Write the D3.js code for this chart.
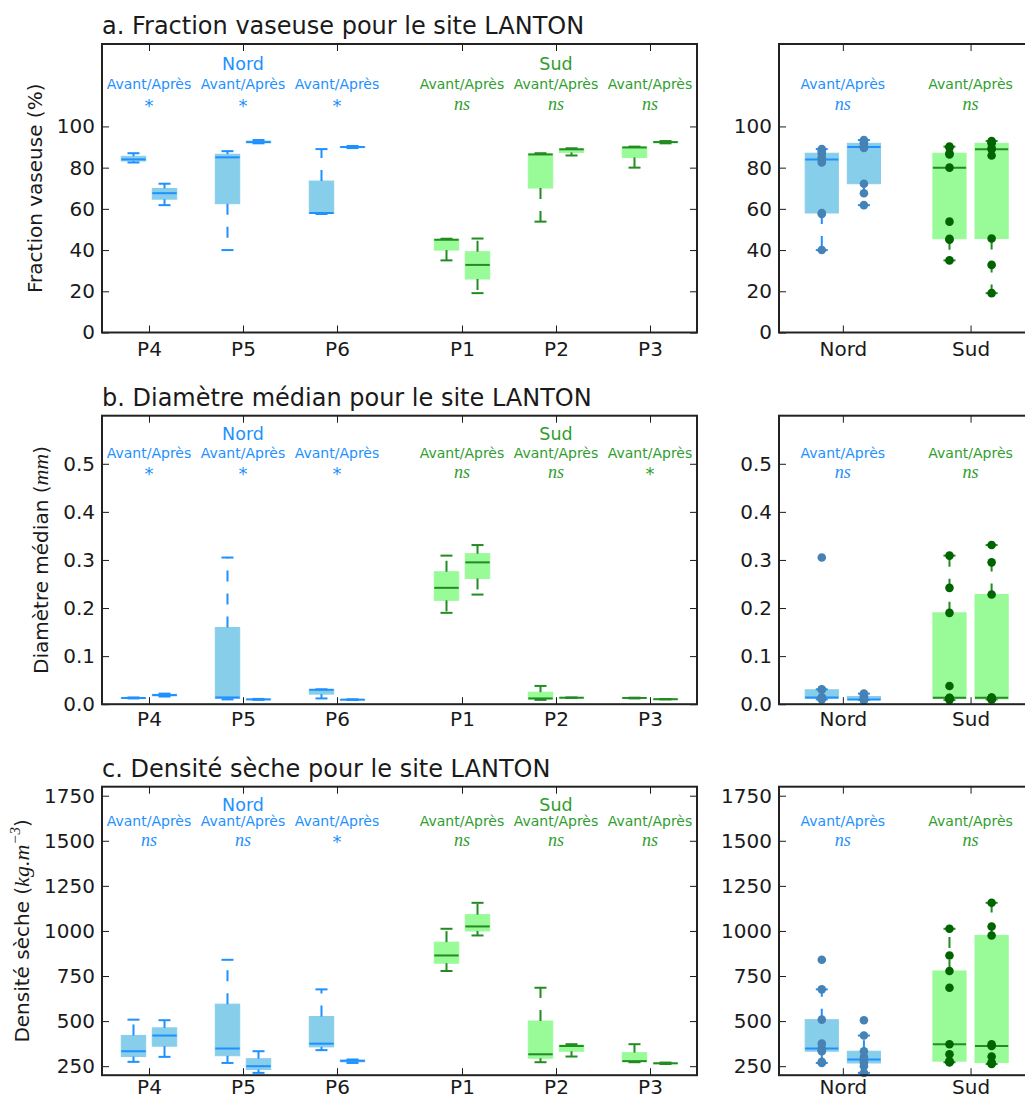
<!DOCTYPE html>
<html>
<head>
<meta charset="utf-8">
<script src="https://cdn.jsdelivr.net/npm/d3@7"></script>
<style>
  body { margin: 0; background: #fff; }
  svg { display: block; font-family: "DejaVu Sans", sans-serif; }
</style>
</head>
<body>
<svg id="chart" width="1025" height="1100"></svg>
<script>
// ---- Sampling sites (three samples per site, before / after) ----
const sites = ["P4", "P5", "P6", "P1", "P2", "P3"];
const siteSector = ["Nord", "Nord", "Nord", "Sud", "Sud", "Sud"];
const sectors = ["Nord", "Sud"];
const pairLabel = "Avant/Après";

// a. Fraction vaseuse (%)
const vaseAvant = [[82.5, 84, 87], [40, 85, 88], [57.5, 58, 89], [35, 45, 45.5], [53.8, 86.4, 87], [80, 89.8, 90.2]];
const vaseApres = [[61.8, 67.6, 72.2], [91.8, 92.4, 93.4], [89.5, 90, 90.5], [19.1, 32.8, 45.6], [85.9, 88.9, 89.4], [91.8, 92.4, 92.9]];
const vaseSig = ["*", "*", "*", "ns", "ns", "ns"];
const vaseSectorSig = ["ns", "ns"];
const vaseDomain = [0, 140];
const vaseTicks = [0, 20, 40, 60, 80, 100];

// b. Diamètre médian (mm)
const diamAvant = [[0.012, 0.013, 0.014], [0.010, 0.014, 0.305], [0.012, 0.030, 0.031], [0.190, 0.242, 0.309], [0.009, 0.012, 0.038], [0.012, 0.013, 0.0135]];
const diamApres = [[0.016, 0.019, 0.022], [0.009, 0.010, 0.011], [0.009, 0.0095, 0.010], [0.228, 0.295, 0.331], [0.013, 0.0135, 0.014], [0.0100, 0.0104, 0.0108]];
const diamSig = ["*", "*", "*", "ns", "ns", "*"];
const diamSectorSig = ["ns", "ns"];
const diamDomain = [0, 0.6];
const diamTicks = [0, 0.1, 0.2, 0.3, 0.4, 0.5];

// c. Densité sèche (kg.m-3)
const densAvant = [[274, 333, 508], [268, 348, 840], [339, 375, 676], [778, 864, 1012], [272, 316, 685], [272, 278, 372]];
const densApres = [[301.7, 420, 505], [213, 250, 333], [268, 280, 287], [975, 1025, 1156], [303.5, 362, 372], [262, 266, 270]];
const densSig = ["ns", "ns", "*", "ns", "ns", "ns"];
const densSectorSig = ["ns", "ns"];
const densDomain = [200, 1800];
const densTicks = [250, 500, 750, 1000, 1250, 1500, 1750];

// ---- Styles ----
const palette = {
  Nord: { fill: "#87CEEB", line: "#1E90FF", dot: "#4682B4", text: "#1E90FF" },
  Sud:  { fill: "#98FB98", line: "#228B22", dot: "#006400", text: "#2e9e2e" }
};
const INK = "#1a1a1a";
const MATH_FONT = "'Liberation Serif', 'DejaVu Serif', serif";

const panels = [
  { title: "a. Fraction vaseuse pour le site LANTON", top: 44,
    avant: vaseAvant, apres: vaseApres, sig: vaseSig, sectorSig: vaseSectorSig,
    domain: vaseDomain, ticks: vaseTicks, fmt: d3.format("d"),
    label: [{ t: "Fraction vaseuse (%)" }],
    off: { sector: 26, pair: 45, sig: 66 }, xPad: 9 },
  { title: "b. Diamètre médian pour le site LANTON", top: 415.7,
    avant: diamAvant, apres: diamApres, sig: diamSig, sectorSig: diamSectorSig,
    domain: diamDomain, ticks: diamTicks, fmt: d3.format(".1f"),
    label: [{ t: "Diamètre médian (" }, { t: "mm", math: true }, { t: ")" }],
    off: { sector: 24.5, pair: 42.5, sig: 62.5 }, xPad: 8 },
  { title: "c. Densité sèche pour le site LANTON", top: 786.7,
    avant: densAvant, apres: densApres, sig: densSig, sectorSig: densSectorSig,
    domain: densDomain, ticks: densTicks, fmt: d3.format("d"),
    label: [{ t: "Densité sèche (" }, { t: "kg.m", math: true }, { t: "−3", math: true, sup: true }, { t: ")" }],
    off: { sector: 24, pair: 39.5, sig: 59.5 }, xPad: 5 }
];

const PANEL_H = 288.5;
const LEFT = [102, 697];
const RIGHT = [779, 1034.4];
const SUD_GAP = 0.33;
const BOX_SHIFT = 0.165;
const BOX_W = 0.26;
const CAP_W = 12;
const TICK = 7;

const svg = d3.select("#chart");

// Tukey box statistics (linear quantiles, 1.5 IQR whiskers)
function boxStats(values) {
  const v = values.slice().sort(d3.ascending);
  const q1 = d3.quantile(v, 0.25), med = d3.quantile(v, 0.5), q3 = d3.quantile(v, 0.75);
  const iqr = q3 - q1;
  const lo = d3.min(v.filter(d => d >= q1 - 1.5 * iqr));
  const hi = d3.max(v.filter(d => d <= q3 + 1.5 * iqr));
  return { q1, med, q3, lo, hi, values: v };
}

function drawBox(g, x, y, cx, values, col, showDots) {
  const s = boxStats(values);
  const half = (x(BOX_W) - x(0)) / 2;
  const px = x(cx);
  const b = g.append("g");
  b.append("rect")
    .attr("x", px - half).attr("width", half * 2)
    .attr("y", y(s.q3)).attr("height", Math.max(0.5, y(s.q1) - y(s.q3)))
    .attr("fill", col.fill).attr("stroke", col.fill).attr("stroke-width", 1);
  // whiskers (dashed, starting at the box)
  [[s.q3, s.hi], [s.q1, s.lo]].forEach(([a, e]) => {
    if (a === e) return;
    b.append("line").attr("x1", px).attr("x2", px).attr("y1", y(a)).attr("y2", y(e))
      .attr("stroke", col.line).attr("stroke-width", 2).attr("stroke-dasharray", "11,12");
  });
  // caps
  [s.hi, s.lo].forEach(e => {
    b.append("line").attr("x1", px - CAP_W / 2).attr("x2", px + CAP_W / 2)
      .attr("y1", y(e)).attr("y2", y(e))
      .attr("stroke", col.line).attr("stroke-width", 2);
  });
  // median
  b.append("line").attr("x1", px - half).attr("x2", px + half)
    .attr("y1", y(s.med)).attr("y2", y(s.med))
    .attr("stroke", col.line).attr("stroke-width", 2);
  if (showDots) {
    b.selectAll("circle").data(s.values).join("circle")
      .attr("cx", px).attr("cy", d => y(d)).attr("r", 4.3)
      .attr("fill", col.dot);
  }
}

function styleAxis(ax, withText) {
  ax.attr("font-size", null).attr("font-family", null);
  ax.select(".domain").remove();
  ax.selectAll(".tick line").attr("stroke", INK).attr("stroke-width", 1);
  ax.selectAll(".tick text").attr("fill", INK).attr("font-size", 20);
  if (!withText) ax.selectAll(".tick text").remove();
}

function annotate(g, px, top, off, pairText, sigText, color) {
  g.append("text").attr("x", px).attr("y", top + off.pair)
    .attr("text-anchor", "middle").attr("font-size", 14).attr("fill", color)
    .text(pairText);
  const t = g.append("text").attr("x", px).attr("y", top + off.sig)
    .attr("text-anchor", "middle").attr("fill", color);
  if (sigText === "ns") {
    t.attr("font-family", MATH_FONT).attr("font-style", "italic").attr("font-size", 18).text("ns");
  } else {
    t.attr("font-size", 18).attr("y", top + off.sig + 1.5).text(sigText);
  }
}

function drawAxes(g, x, y, xr, top, bottom, xTicks, xFmt, p) {
  const yl = g.append("g").attr("transform", `translate(${xr[0]},0)`)
    .call(d3.axisLeft(y).tickValues(p.ticks).tickFormat(p.fmt).tickSize(-TICK).tickPadding(7));
  styleAxis(yl, true);
  const yr = g.append("g").attr("transform", `translate(${xr[1]},0)`)
    .call(d3.axisRight(y).tickValues(p.ticks).tickSize(-TICK));
  styleAxis(yr, false);
  const xb = g.append("g").attr("transform", `translate(0,${bottom})`)
    .call(d3.axisBottom(x).tickValues(xTicks).tickFormat(xFmt).tickSize(-TICK).tickPadding(p.xPad));
  styleAxis(xb, true);
  const xt = g.append("g").attr("transform", `translate(0,${top})`)
    .call(d3.axisTop(x).tickValues(xTicks).tickSize(-TICK));
  styleAxis(xt, false);
  return yl;
}

panels.forEach(p => {
  const top = p.top, bottom = top + PANEL_H;
  const y = d3.scaleLinear().domain(p.domain).range([bottom, top]);

  // ---------- per-site panel ----------
  const xL = d3.scaleLinear().domain([0.5, 6.83]).range(LEFT);
  const sitePos = sites.map((s, i) => i + 1 + (siteSector[i] === "Sud" ? SUD_GAP : 0));
  const gL = svg.append("g");

  sites.forEach((s, i) => {
    const col = palette[siteSector[i]];
    drawBox(gL, xL, y, sitePos[i] - BOX_SHIFT, p.avant[i], col, false);
    drawBox(gL, xL, y, sitePos[i] + BOX_SHIFT, p.apres[i], col, false);
    annotate(gL, xL(sitePos[i]), top, p.off, pairLabel, p.sig[i], col.text);
  });
  sectors.forEach(sec => {
    const idx = siteSector.map((d, i) => d === sec ? i : -1).filter(i => i >= 0);
    const mid = idx[Math.floor(idx.length / 2)];
    gL.append("text").attr("x", xL(sitePos[mid])).attr("y", top + p.off.sector)
      .attr("text-anchor", "middle").attr("font-size", 17.5).attr("fill", palette[sec].text)
      .text(sec);
  });

  const ylAxis = drawAxes(gL, xL, y, LEFT, top, bottom, sitePos, (d, i) => sites[i], p);
  gL.append("rect").attr("x", LEFT[0]).attr("y", top)
    .attr("width", LEFT[1] - LEFT[0]).attr("height", PANEL_H)
    .attr("fill", "none").attr("stroke", "#222").attr("stroke-width", 2);

  gL.append("text").attr("x", LEFT[0]).attr("y", top - 10)
    .attr("font-size", 24).attr("fill", INK).text(p.title);

  // y label, set just left of the tick labels
  const bb = ylAxis.node().getBBox();
  const lx = LEFT[0] + bb.x - 15;
  const label = gL.append("text")
    .attr("transform", `translate(${lx},${(top + bottom) / 2}) rotate(-90)`)
    .attr("text-anchor", "middle").attr("font-size", 20).attr("fill", INK);
  p.label.forEach((part, k) => {
    const ts = label.append("tspan").text(part.t);
    if (part.math) ts.attr("font-family", MATH_FONT).attr("font-style", "italic").attr("font-size", 22);
    if (part.sup) ts.attr("font-size", 15).attr("dy", -9);
    if (k > 0 && p.label[k - 1].sup) ts.attr("dy", 9);
  });

  // ---------- per-sector panel ----------
  const xR = d3.scaleLinear().domain([0.5, 2.5]).range(RIGHT);
  const gR = svg.append("g");
  sectors.forEach((sec, j) => {
    const col = palette[sec];
    const idx = siteSector.map((d, i) => d === sec ? i : -1).filter(i => i >= 0);
    const av = idx.flatMap(i => p.avant[i]);
    const ap = idx.flatMap(i => p.apres[i]);
    drawBox(gR, xR, y, j + 1 - BOX_SHIFT, av, col, true);
    drawBox(gR, xR, y, j + 1 + BOX_SHIFT, ap, col, true);
    annotate(gR, xR(j + 1), top, p.off, pairLabel, p.sectorSig[j], col.text);
  });
  drawAxes(gR, xR, y, RIGHT, top, bottom, [1, 2], (d, i) => sectors[i], p);
  gR.append("rect").attr("x", RIGHT[0]).attr("y", top)
    .attr("width", RIGHT[1] - RIGHT[0]).attr("height", PANEL_H)
    .attr("fill", "none").attr("stroke", "#222").attr("stroke-width", 2);
});
</script>
</body>
</html>
